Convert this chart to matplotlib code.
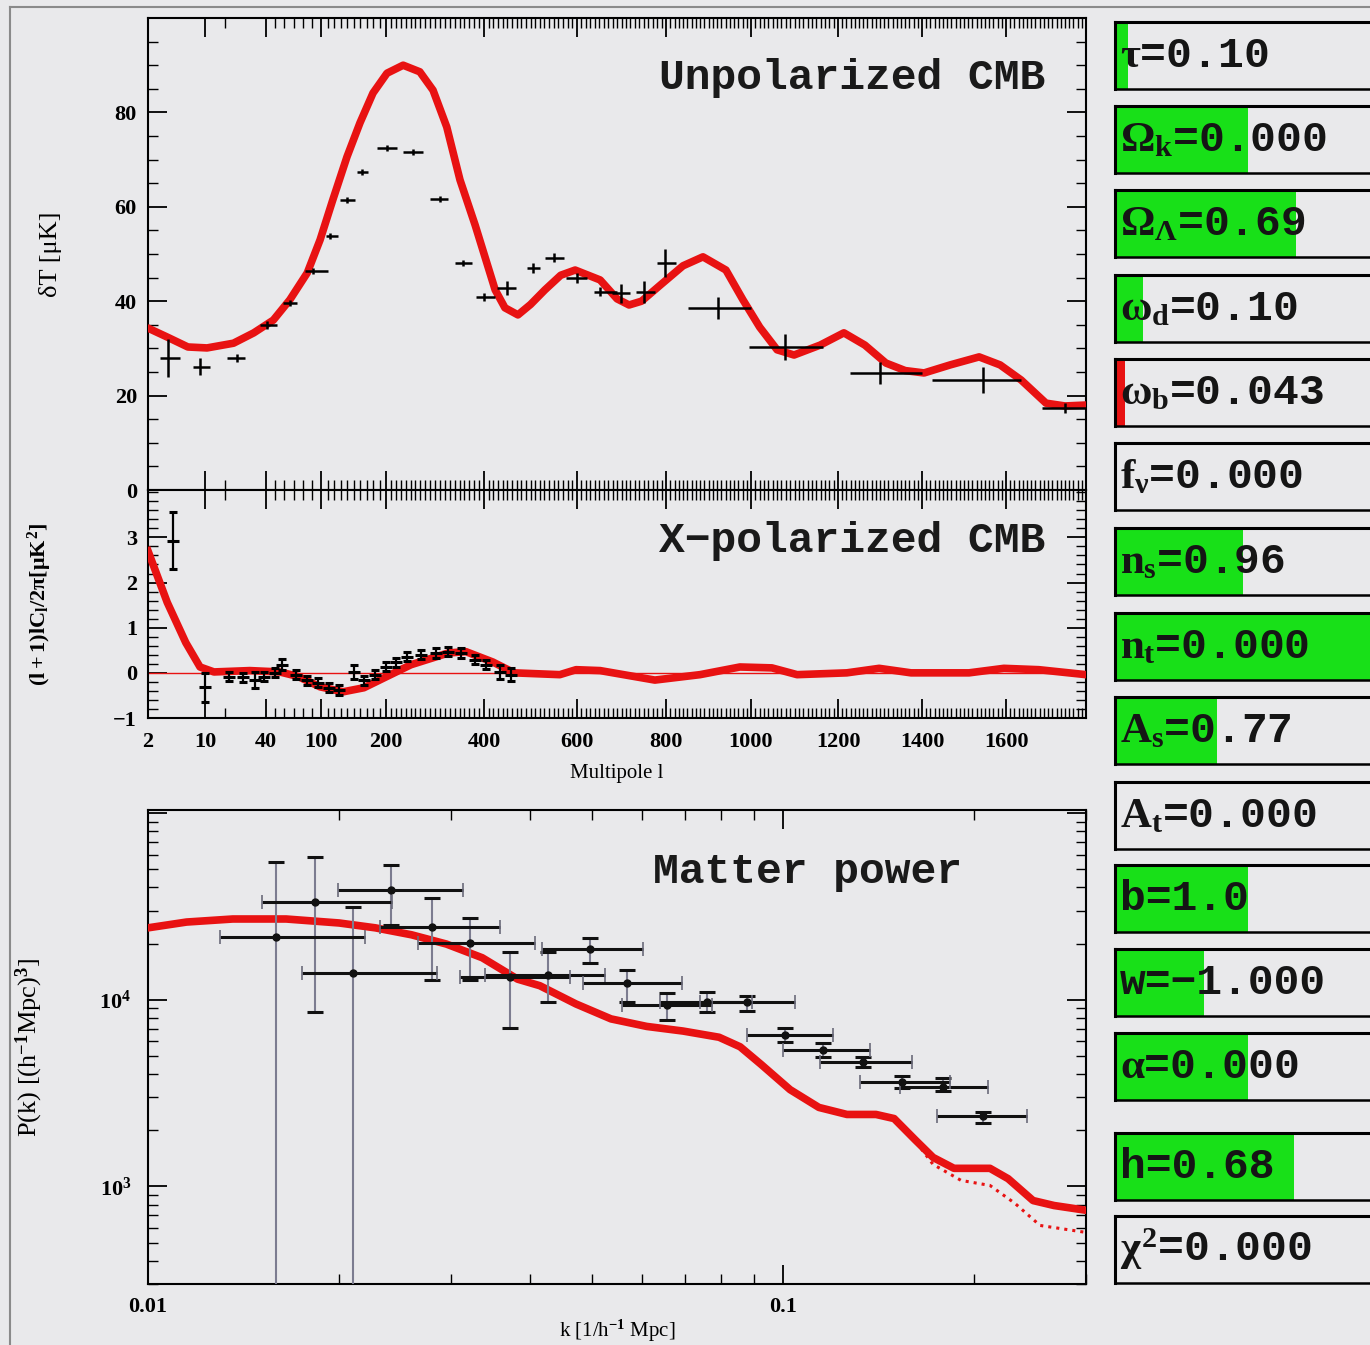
import numpy as np
import matplotlib
matplotlib.use('Agg')
import matplotlib.pyplot as plt
from matplotlib.lines import Line2D
from matplotlib.patches import Rectangle
from matplotlib.ticker import FixedLocator, NullFormatter

W, H = 1370, 1345
BG = '#e9e9eb'
RED = '#e81212'
GREEN = '#18e018'

plt.rcParams['font.family'] = ['Liberation Serif', 'DejaVu Serif']
plt.rcParams['font.weight'] = 'bold'
plt.rcParams['mathtext.fontset'] = 'custom'
plt.rcParams['mathtext.rm'] = 'Liberation Serif:bold'
plt.rcParams['mathtext.it'] = 'Liberation Serif:bold'
plt.rcParams['mathtext.bf'] = 'Liberation Serif:bold'

# ---- unpolarized CMB: model curve and band powers
tt_l = [2, 4.7, 7.6, 11, 24, 34, 48, 66, 85, 99, 118, 140, 160, 180, 202, 235, 269, 296, 324, 351,
        382, 424, 445, 473, 500, 531, 565, 596, 652, 690, 717, 745, 787, 840, 887, 941, 981, 1020,
        1060, 1099, 1159, 1214, 1264, 1314, 1360, 1405, 1467, 1536, 1586, 1636, 1695, 1740, 1790]
tt_dT = [34.3, 32.4, 30.3, 30.1, 31.1, 33.3, 36.0, 40.3, 46.0, 53.0, 61.4, 70.6, 77.8, 84.1, 88.3,
         90.0, 88.6, 84.7, 76.9, 65.7, 56.1, 42.4, 38.6, 37.1, 39.3, 42.4, 45.5, 46.6, 44.5, 40.5,
         39.2, 40.0, 43.4, 47.5, 49.4, 46.6, 40.3, 34.5, 29.7, 28.6, 30.7, 33.3, 30.7, 26.9, 25.3,
         24.8, 26.5, 28.2, 26.5, 23.3, 18.4, 17.8, 18.0]

tt_obs_l = [4.8, 9.3, 25.7, 41, 66, 91, 114, 140, 163, 202, 255, 310, 357, 400, 449, 505, 551,
            600, 652, 699, 751, 798, 922, 1078, 1300, 1545, 1739]
tt_obs_lo = [3.7, 8.3, 20.8, 37, 58, 82.5, 108, 129, 155, 186, 235, 290, 341, 384, 428, 492, 531,
             576, 638, 679, 733, 780, 852, 995, 1229, 1424, 1686]
tt_obs_hi = [6.5, 12.5, 29.7, 52, 74, 111, 126, 152, 172, 222, 276, 327, 376, 424, 469, 520, 572,
             622, 690, 720, 776, 824, 1000, 1166, 1400, 1636, 1790]
tt_obs_dT = [28.0, 26.1, 28.0, 35.0, 39.6, 46.4, 53.8, 61.4, 67.4, 72.5, 71.6, 61.6, 48.1, 40.9,
             42.8, 47.0, 49.2, 44.9, 42.0, 41.7, 42.0, 48.1, 38.6, 30.3, 24.8, 23.3, 17.4]
tt_obs_err = [4.0, 1.8, 0.8, 0.8, 0.6, 0.6, 0.6, 0.6, 0.6, 0.6, 0.6, 0.6, 0.6, 0.8, 1.5, 1.0, 1.0,
              1.0, 1.0, 2.0, 2.3, 3.0, 2.3, 2.7, 2.4, 2.8, 1.0]

# ---- X-polarized CMB
ee_curve_l = [2, 4.7, 7.3, 9.3, 14.4, 32, 55, 75, 99, 134, 166, 200, 251, 327, 363, 419, 465, 563,
              598, 652, 775, 880, 974, 1048, 1106, 1221, 1298, 1374, 1512, 1595, 1678, 1790]
ee_curve_v = [2.7, 1.56, 0.67, 0.13, 0.02, 0.05, 0.02, -0.08, -0.31, -0.42, -0.33, -0.09, 0.18,
              0.44, 0.47, 0.24, 0.0, -0.04, 0.07, 0.05, -0.16, -0.04, 0.13, 0.11, -0.04, 0.0, 0.1,
              0.0, 0.0, 0.1, 0.07, -0.04]

ee_l = [5.5, 10.2, 21.8, 28.7, 34.6, 39, 49.8, 57.5, 72.7, 84.7, 96.7, 112, 128, 151, 166, 183,
        200, 220, 243, 271, 302, 327, 353, 382, 404, 434, 458]
ee_v = [2.93, -0.32, -0.09, -0.1, -0.16, -0.09, 0.0, 0.18, -0.04, -0.16, -0.22, -0.33, -0.38, 0.02,
        -0.16, -0.04, 0.13, 0.24, 0.36, 0.40, 0.44, 0.47, 0.44, 0.29, 0.18, 0.02, -0.04]
ee_err = [0.63, 0.32, 0.1, 0.1, 0.18, 0.1, 0.1, 0.12, 0.1, 0.1, 0.1, 0.1, 0.1, 0.15, 0.1, 0.1,
          0.1, 0.1, 0.1, 0.1, 0.1, 0.1, 0.1, 0.1, 0.1, 0.15, 0.15]

# ---- matter power spectrum
pk_curve_k = [0.0100, 0.0115, 0.0136, 0.0165, 0.0200, 0.0228, 0.0260, 0.0295, 0.0336, 0.0382,
              0.0414, 0.0472, 0.0536, 0.0610, 0.0696, 0.0793, 0.0856, 0.0924, 0.1026, 0.1139,
              0.1261, 0.1401, 0.1496, 0.1614, 0.1723, 0.1859, 0.2118, 0.2262, 0.2476, 0.2672,
              0.3000]
pk_curve_P = [24300, 26100, 27100, 27100, 25800, 24300, 22300, 19900, 16800, 12900, 11900, 9500,
              7900, 7200, 6800, 6300, 5600, 4500, 3300, 2650, 2430, 2430, 2310, 1780, 1430, 1250,
              1250, 1100, 840, 790, 745]
pk_nl_k = [0.1496, 0.1614, 0.1723, 0.1907, 0.2118, 0.2319, 0.2539, 0.3000]
pk_nl_P = [2310, 1760, 1312, 1077, 1012, 811, 618, 567]

pk_k = [0.01591, 0.01832, 0.02102, 0.02414, 0.02801, 0.03214, 0.03717, 0.04265, 0.04967, 0.05680,
        0.06566, 0.07593, 0.08777, 0.1007, 0.1156, 0.1337, 0.1539, 0.1786, 0.2065]
pk_klo = [0.01298, 0.01512, 0.01748, 0.01992, 0.02319, 0.02662, 0.03100, 0.03394, 0.04173,
          0.04842, 0.05578, 0.06401, 0.07403, 0.08777, 0.1000, 0.1144, 0.1322, 0.1529, 0.1748]
pk_khi = [0.02197, 0.02423, 0.02852, 0.03134, 0.03584, 0.04068, 0.04618, 0.05245, 0.06018,
          0.06934, 0.07732, 0.08937, 0.1044, 0.1199, 0.1371, 0.1597, 0.1832, 0.2102, 0.2423]
pk_P = [21730, 33400, 13940, 38700, 24560, 20190, 13280, 13610, 18740, 12330, 9400, 9760, 9760,
        6500, 5410, 4660, 3640, 3430, 2370]
pk_Plo = [100, 8620, 100, 25200, 12790, 12790, 7080, 9760, 15780, 9760, 7820, 8620, 8730, 5960,
          4950, 4380, 3380, 3260, 2200]
pk_Phi = [54700, 58200, 31400, 52700, 35060, 27490, 17950, 17950, 21480, 14460, 10900, 11030,
          10500, 7080, 5890, 4950, 3920, 3830, 2520]

# ---- parameter sliders
param_labels = [r'$\tau$=0.10', r'$\Omega_k$=0.000', r'$\Omega_\Lambda$=0.69', r'$\omega_d$=0.10',
                r'$\omega_b$=0.043', r'$f_\nu$=0.000', r'$n_s$=0.96', r'$n_t$=0.000',
                r'$A_s$=0.77', r'$A_t$=0.000', 'b=1.0', 'w=\u22121.000', r'$\alpha$=0.000',
                'h=0.68', r'$\chi^2$=0.000']
param_fill = [0.05, 0.52, 0.71, 0.11, 0.04, 0, 0.50, 1.0, 0.40, 0, 0.52, 0.35, 0.52, 0.70, 0]
param_color = [GREEN, GREEN, GREEN, GREEN, RED, GREEN, GREEN, GREEN, GREEN, GREEN, GREEN, GREEN,
               GREEN, GREEN, GREEN]

# multipole axis: stretched at low l, roughly linear above l=200
scale_l = [2, 10, 40, 100, 200, 400, 600, 800, 1000, 1200, 1400, 1600, 1790]
scale_pos = [0, 57, 118, 173, 238, 336, 429, 518, 603, 690, 774, 858, 938]


def l_fwd(l):
    return np.interp(l, scale_l, scale_pos)


def l_inv(x):
    return np.interp(x, scale_pos, scale_l)


l_major = [2, 10, 40, 100, 200, 400, 600, 800, 1000, 1200, 1400, 1600]
l_minor = [20, 50, 60, 70, 80, 90] + [v for v in range(110, 1790, 10) if v not in l_major]

fig = plt.figure(figsize=(W / 100, H / 100), dpi=100, facecolor=BG)


def px_axes(left, top, right, bottom):
    return fig.add_axes([left / W, 1 - bottom / H, (right - left) / W, (bottom - top) / H])


def style(ax):
    ax.set_facecolor(BG)
    for s in ax.spines.values():
        s.set_linewidth(1.5)
    ax.tick_params(which='both', direction='in', top=True, right=True, labelsize=16)
    ax.tick_params(which='major', length=14, width=1.3)
    ax.tick_params(which='minor', length=7, width=1.0)


def cmb_xaxis(ax):
    ax.set_xscale('function', functions=(l_fwd, l_inv))
    ax.set_xlim(2, 1790)
    ax.xaxis.set_major_locator(FixedLocator(l_major))
    ax.xaxis.set_minor_locator(FixedLocator(l_minor))
    ax.xaxis.set_minor_formatter(NullFormatter())


MONO = ['Liberation Mono', 'DejaVu Sans Mono']

# top panel: temperature
ax1 = px_axes(148, 18, 1086, 490)
style(ax1)
cmb_xaxis(ax1)
ax1.set_xticklabels([])
ax1.set_ylim(0, 100)
ax1.set_yticks([0, 20, 40, 60, 80])
ax1.yaxis.set_minor_locator(FixedLocator(np.arange(5, 100, 5)))
ax1.tick_params(axis='y', pad=8)
ax1.plot(tt_l, tt_dT, color=RED, lw=5.5, solid_joinstyle='round', solid_capstyle='round', zorder=3)
obs_l = np.array(tt_obs_l)
ax1.errorbar(obs_l, tt_obs_dT,
             xerr=[obs_l - np.array(tt_obs_lo), np.array(tt_obs_hi) - obs_l],
             yerr=tt_obs_err, fmt='none', ecolor='black', elinewidth=1.8, capsize=0, zorder=4)
ax1.text(0.957, 0.873, 'Unpolarized CMB', transform=ax1.transAxes, ha='right', va='center',
         fontsize=31, family=MONO, weight='bold', color='#1a1a1a')
ax1.set_ylabel('\u03b4T [\u03bcK]', fontsize=19)
ax1.yaxis.set_label_coords(-0.092, 0.5)

# middle panel: polarization
ax2 = px_axes(148, 490, 1086, 718)
style(ax2)
cmb_xaxis(ax2)
ax2.set_ylim(-1, 4.05)
ax2.set_yticks([-1, 0, 1, 2, 3])
ax2.yaxis.set_minor_locator(FixedLocator(np.arange(-0.8, 4.05, 0.2)))
ax2.tick_params(axis='y', pad=8)
ax2.tick_params(axis='x', pad=10)
ax2.set_xticklabels([str(v) for v in l_major])
ax2.axhline(0, color=RED, lw=1.0, zorder=2)
ax2.plot(ee_curve_l, ee_curve_v, color=RED, lw=5.5, solid_joinstyle='round', zorder=3)
ax2.errorbar(ee_l, ee_v, yerr=ee_err, fmt='_', ms=8, mew=2.2, color='black', ecolor='black',
             elinewidth=1.6, capsize=3, zorder=4)
ax2.text(0.957, 0.776, 'X\u2212polarized CMB', transform=ax2.transAxes, ha='right', va='center',
         fontsize=31, family=MONO, weight='bold', color='#1a1a1a')
ax2.set_ylabel(r'$(l+1)lC_l/2\pi[\mu K^2]$', fontsize=16)
ax2.yaxis.set_label_coords(-0.1, 0.5)
ax2.set_xlabel('Multipole l', fontsize=15)
ax2.xaxis.set_label_coords(0.5, -0.2)

# bottom panel: matter power
ax3 = px_axes(148, 810, 1086, 1284)
style(ax3)
ax3.set_xscale('log')
ax3.set_yscale('log')
ax3.set_xlim(0.01, 0.3)
ax3.set_ylim(300, 1.04e5)
ax3.set_xticks([0.01, 0.1])
ax3.set_xticklabels(['0.01', '0.1'])
ax3.xaxis.set_minor_locator(FixedLocator([0.02, 0.03, 0.04, 0.05, 0.06, 0.07, 0.08, 0.09, 0.2, 0.3]))
ax3.xaxis.set_minor_formatter(NullFormatter())
ax3.set_yticks([1e3, 1e4, 1e5])
ax3.set_yticklabels([r'$10^3$', r'$10^4$', ''])
ax3.yaxis.set_minor_locator(FixedLocator([m * d for d in (100, 1000, 10000) for m in range(2, 10)]))
ax3.yaxis.set_minor_formatter(NullFormatter())
ax3.tick_params(axis='y', pad=12)
ax3.tick_params(axis='x', pad=9)
ax3.plot(pk_curve_k, pk_curve_P, color=RED, lw=5.5, solid_joinstyle='round', zorder=3)
ax3.plot(pk_nl_k, pk_nl_P, color=RED, lw=2.2, ls=':', zorder=3)

k = np.array(pk_k)
P = np.array(pk_P)
vert = ax3.errorbar(k, P, yerr=[P - np.array(pk_Plo), np.array(pk_Phi) - P], fmt='none',
                    ecolor='#7c7c90', elinewidth=1.5, capsize=6, capthick=2.2, zorder=4)
for cap in vert[1]:
    cap.set_markeredgecolor('#111111')
horiz = ax3.errorbar(k, P, xerr=[k - np.array(pk_klo), np.array(pk_khi) - k], fmt='o', ms=5,
                     color='#111111', ecolor='#111111', elinewidth=2.2, capsize=5, capthick=1.2,
                     zorder=5)
for cap in horiz[1]:
    cap.set_markeredgecolor('#6a6a7a')
ax3.text(0.868, 0.869, 'Matter power', transform=ax3.transAxes, ha='right', va='center',
         fontsize=31, family=MONO, weight='bold', color='#1a1a1a')
ax3.set_ylabel(r'P(k) [(h$^{-1}$Mpc)$^3$]', fontsize=19)
ax3.yaxis.set_label_coords(-0.11, 0.5)
ax3.set_xlabel(r'k [1/h$^{-1}$ Mpc]', fontsize=15)
ax3.xaxis.set_label_coords(0.5, -0.072)

# parameter column on the right
axp = fig.add_axes([1115 / W, 0, (W - 1115) / W, 1])
axp.set_xlim(0, W - 1115)
axp.set_ylim(H, 0)
axp.axis('off')
box_tops = [22, 106, 190, 275, 359, 443, 528, 613, 697, 782, 865, 949, 1033, 1133, 1216]
box_h = 67
box_w = W - 1115
for top, label, frac, col in zip(box_tops, param_labels, param_fill, param_color):
    if frac > 0:
        axp.add_patch(Rectangle((0, top), frac * box_w, box_h, facecolor=col, edgecolor='none',
                                zorder=1))
    axp.plot([0, box_w], [top, top], color='black', lw=2.2, zorder=3, clip_on=False)
    axp.plot([0, box_w], [top + box_h, top + box_h], color='black', lw=1.8, zorder=3,
             clip_on=False)
    axp.plot([0, 0], [top, top + box_h], color='black', lw=2.2, zorder=3, clip_on=False)
    axp.text(5, top + 45, label, fontsize=31, family=MONO, weight='bold', va='baseline',
             ha='left', color='#151515', zorder=4)

# outer frame
fig.add_artist(Line2D([10 / W, 10 / W], [0, 1 - 7 / H], color='#8a8a8a', lw=1.5,
                      transform=fig.transFigure))
fig.add_artist(Line2D([10 / W, 1], [1 - 7 / H, 1 - 7 / H], color='#8a8a8a', lw=1.5,
                      transform=fig.transFigure))

fig.savefig('out.png', dpi=100, facecolor=BG)
